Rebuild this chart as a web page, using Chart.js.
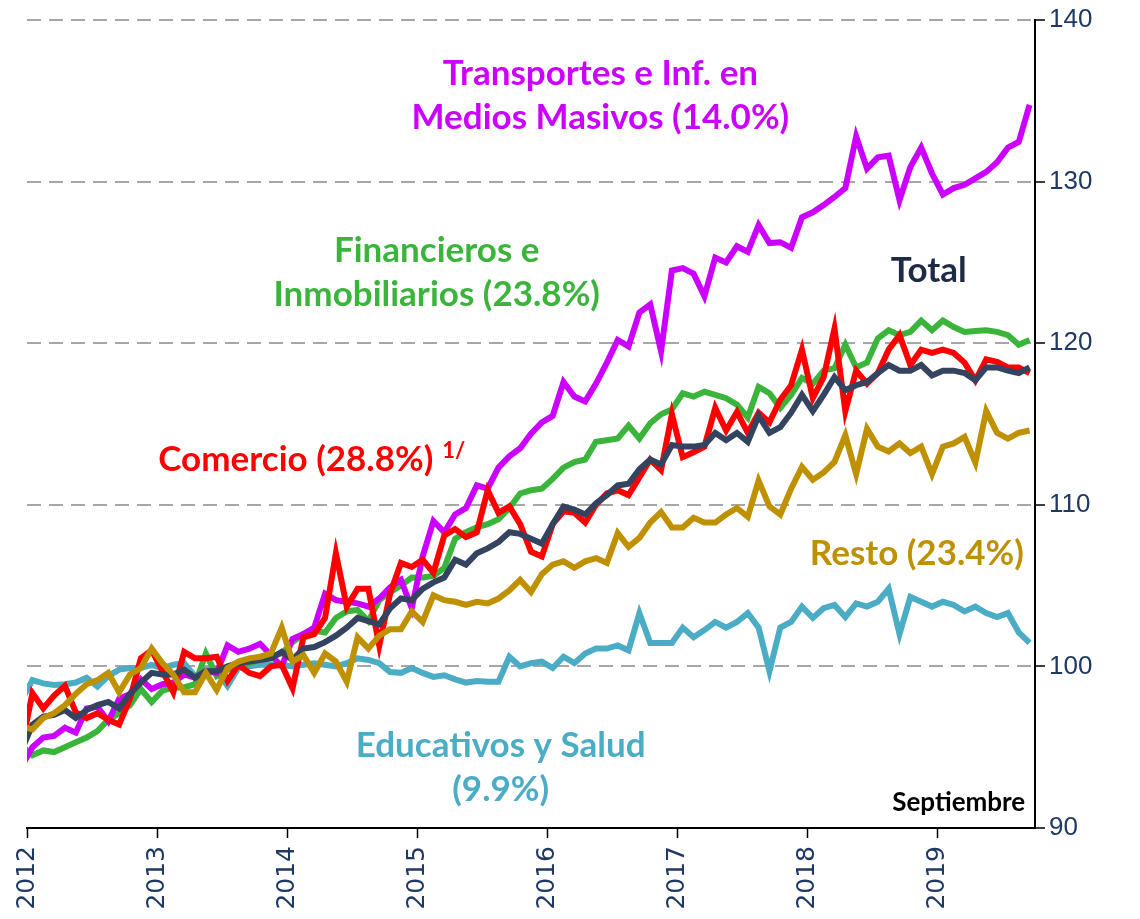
<!DOCTYPE html>
<html>
<head>
<meta charset="utf-8">
<script src="https://cdn.jsdelivr.net/npm/chart.js@4.4.0/dist/chart.umd.min.js"></script>
<style>
  html, body { margin: 0; padding: 0; background: #fff; }
  #wrap { width: 1140px; height: 919px; }
</style>
</head>
<body>
<div id="wrap"><canvas id="chart"></canvas></div>
<script>
const years = ['2012', '2013', '2014', '2015', '2016', '2017', '2018', '2019'];

// monthly index values, Dec 2011 (cut off at the left edge) to Sep 2019
const total = [94.8,
  96.4, 96.9, 97.0, 97.3, 96.8, 97.3, 97.6, 97.8, 97.4, 98.3, 99.0, 99.6,
  99.5, 99.5, 99.8, 99.3, 99.7, 99.7, 100.0, 100.2, 100.3, 100.4, 100.5, 100.9,
  100.4, 101.1, 101.2, 101.5, 101.9, 102.4, 103.0, 102.8, 102.6, 103.6, 104.2, 104.1,
  104.8, 105.2, 105.5, 106.6, 106.3, 107.0, 107.3, 107.7, 108.3, 108.2, 107.9, 107.6,
  108.8, 109.9, 109.7, 109.4, 110.1, 110.6, 111.2, 111.3, 112.2, 112.8, 112.5, 113.7,
  113.6, 113.6, 113.7, 114.45, 114.0, 114.45, 113.9, 115.5, 114.45, 114.8, 115.7, 116.8,
  115.8, 116.8, 117.9, 117.1, 117.4, 117.6, 118.15, 118.65, 118.3, 118.3, 118.65, 118.0,
  118.3, 118.3, 118.15, 117.7, 118.5, 118.5, 118.3, 118.15, 118.5];

const transportes = [93.8,
  95.0, 95.6, 95.7, 96.2, 95.9, 97.4, 97.5, 96.6, 98.0, 98.3, 99.2, 98.6,
  98.9, 99.0, 99.5, 99.3, 99.7, 99.6, 101.3, 100.9, 101.1, 101.4, 100.7, 100.0,
  101.7, 102.0, 102.4, 104.5, 104.1, 104.0, 103.9, 103.7, 104.2, 104.9, 105.35, 103.6,
  106.8, 109.0, 108.3, 109.4, 109.8, 111.2, 111.0, 112.3, 113.0, 113.5, 114.4, 115.1,
  115.5, 117.6, 116.7, 116.4, 117.5, 118.8, 120.2, 119.8, 121.9, 122.4, 119.5, 124.5,
  124.65, 124.3, 122.9, 125.3, 125.0, 126.0, 125.65, 127.3, 126.2, 126.25, 125.9, 127.8,
  128.1, 128.55, 129.05, 129.6, 132.8, 130.8, 131.5, 131.6, 128.85, 130.9, 132.1, 130.5,
  129.2, 129.6, 129.8, 130.2, 130.6, 131.2, 132.1, 132.45, 134.75];

const financieros = [95.1,
  94.5, 94.8, 94.7, 95.0, 95.3, 95.6, 96.0, 96.7, 97.1, 97.6, 98.6, 97.8,
  98.5, 98.7, 98.7, 98.9, 100.8, 99.4, 99.8, 100.0, 100.2, 100.4, 100.6, 100.8,
  101.5, 102.0, 102.2, 102.1, 103.0, 103.4, 103.5, 102.8, 104.1, 104.6, 105.0, 105.5,
  105.5, 105.6, 106.1, 107.9, 108.3, 108.6, 108.8, 109.1, 109.8, 110.7, 110.9, 111.0,
  111.6, 112.3, 112.65, 112.8, 113.9, 114.0, 114.1, 114.9, 114.1, 115.05, 115.6, 115.9,
  116.9, 116.7, 117.0, 116.8, 116.6, 116.2, 115.4, 117.3, 116.9, 116.0, 116.8, 117.85,
  117.5, 118.3, 118.45, 119.9, 118.5, 118.8, 120.3, 120.8, 120.5, 120.7, 121.4, 120.8,
  121.4, 121.0, 120.7, 120.75, 120.8, 120.7, 120.5, 119.9, 120.2];

const comercio = [95.0,
  98.35, 97.4, 98.2, 98.8, 97.15, 96.8, 97.1, 96.7, 96.4, 98.0, 100.5, 101.0,
  99.7, 98.4, 100.9, 100.5, 100.5, 100.6, 99.1, 100.1, 99.6, 99.4, 100.0, 100.1,
  98.65, 101.8, 102.0, 103.0, 107.0, 103.7, 104.8, 104.8, 101.3, 104.5, 106.4, 106.15,
  106.6, 105.8, 108.1, 108.5, 108.0, 108.3, 110.9, 109.5, 109.9, 108.8, 107.1, 106.8,
  108.8, 109.6, 109.5, 108.9, 110.0, 110.7, 110.9, 110.6, 111.7, 112.8, 112.15, 115.6,
  112.95, 113.25, 113.6, 116.0, 114.6, 115.75, 114.45, 115.7, 115.1, 116.5, 117.4, 119.6,
  116.6, 117.9, 120.9, 115.8, 118.3, 117.5, 118.15, 119.6, 120.5, 118.65, 119.6, 119.4,
  119.6, 119.4, 118.8, 117.7, 119.0, 118.85, 118.5, 118.5, 118.15];

const resto = [96.3,
  96.1, 96.8, 97.1, 97.6, 98.3, 98.9, 99.15, 99.6, 98.4, 99.5, 99.9, 101.1,
  100.2, 99.5, 98.4, 98.4, 99.6, 98.55, 99.9, 100.3, 100.5, 100.6, 100.8, 102.4,
  100.3, 100.7, 99.6, 100.8, 100.3, 99.05, 101.8, 101.1, 101.9, 102.3, 102.3, 103.4,
  102.75, 104.4, 104.1, 104.0, 103.8, 104.0, 103.9, 104.2, 104.7, 105.35, 104.6, 105.7,
  106.3, 106.5, 106.1, 106.5, 106.7, 106.4, 108.25, 107.4, 107.95, 108.9, 109.55, 108.6,
  108.6, 109.2, 108.9, 108.9, 109.4, 109.8, 109.25, 111.5, 109.9, 109.4, 111.0, 112.35,
  111.55, 112.0, 112.65, 114.3, 111.9, 114.7, 113.6, 113.3, 113.8, 113.2, 113.6, 111.9,
  113.6, 113.8, 114.2, 112.6, 115.8, 114.45, 114.1, 114.45, 114.6];

const educativos = [97.9,
  99.15, 98.95, 98.85, 98.9, 99.0, 99.3, 98.75, 99.4, 99.8, 99.9, 99.9, 100.1,
  99.9, 100.1, 100.2, 99.4, 99.8, 99.7, 98.8, 99.9, 100.0, 100.1, 100.1, 100.1,
  100.0, 100.1, 100.2, 100.1, 100.0, 100.2, 100.5, 100.4, 100.2, 99.65, 99.6, 99.9,
  99.6, 99.35, 99.45, 99.2, 99.0, 99.1, 99.05, 99.05, 100.6, 100.0, 100.2, 100.3,
  99.9, 100.6, 100.2, 100.8, 101.1, 101.1, 101.3, 101.0, 103.3, 101.45, 101.45, 101.45,
  102.4, 101.8, 102.25, 102.75, 102.4, 102.75, 103.3, 102.4, 99.7, 102.4, 102.75, 103.7,
  103.0, 103.6, 103.8, 103.05, 103.9, 103.7, 104.0, 104.8, 102.0, 104.3, 104.0, 103.7,
  104.0, 103.8, 103.4, 103.7, 103.3, 103.05, 103.3, 102.1, 101.45];

const PURPLE = '#CC00FF';
const GREEN = '#3AB43A';
const RED = '#FF0000';
const NAVY = '#344360';
const GOLD = '#BF9000';
const TEAL = '#4BACC6';
const AXIS_TEXT = '#1F3864';

// month index: 0 = Jan 2012, first value of each series is Dec 2011
const toPoints = arr => arr.map((v, k) => ({ x: k - 1, y: v }));

// text labels, placed in data units (month index, index value)
const notes = [
  { text: ['Transportes e Inf. en', 'Medios Masivos (14.0%)'], x: 52.4, y: 136.7, color: PURPLE },
  { text: ['Financieros e', 'Inmobiliarios (23.8%)'], x: 37.3, y: 125.7, color: GREEN },
  { text: ['Total'], x: 82.7, y: 124.5, color: '#1F2A44' },
  { text: ['Comercio (28.8%)'], x: 24.3, y: 112.8, color: RED, sup: '1/' },
  { text: ['Resto (23.4%)'], x: 81.6, y: 107.0, color: GOLD },
  { text: ['Educativos y Salud', '(9.9%)'], x: 43.2, y: 95.1, color: TEAL },
  { text: ['Septiembre'], x: 91.6, y: 91.6, color: '#000', size: 26, align: 'right' }
];

const notesPlugin = {
  id: 'notes',
  afterDatasetsDraw(chart) {
    const { ctx, scales } = chart;
    ctx.save();
    notes.forEach(n => {
      const size = n.size || 35;
      const px = scales.x.getPixelForValue(n.x);
      const py = scales.y.getPixelForValue(n.y);
      ctx.font = 'bold ' + size + 'px Lato, sans-serif';
      ctx.fillStyle = n.color;
      ctx.textAlign = n.align || 'center';
      ctx.textBaseline = 'middle';
      n.text.forEach((line, k) => ctx.fillText(line, px, py + k * 44));
      if (n.sup) {
        const w = ctx.measureText(n.text[0]).width;
        ctx.font = 'bold 22px Lato, sans-serif';
        ctx.textAlign = 'left';
        ctx.fillText(n.sup, px + w / 2 + 9, py - 9);
      }
    });
    ctx.restore();
  }
};

const line = (label, data, color) => ({
  label: label,
  data: toPoints(data),
  borderColor: color,
  backgroundColor: color,
  borderWidth: 6,
  pointRadius: 0,
  fill: false,
  tension: 0,
  clip: 0
});

new Chart(document.getElementById('chart').getContext('2d'), {
  type: 'line',
  data: {
    datasets: [
      line('Resto', resto, GOLD),
      line('Total', total, NAVY),
      line('Comercio', comercio, RED),
      line('Transportes e Inf. en Medios Masivos', transportes, PURPLE),
      line('Financieros e Inmobiliarios', financieros, GREEN),
      line('Educativos y Salud', educativos, TEAL)
    ]
  },
  options: {
    responsive: true,
    maintainAspectRatio: false,
    animation: false,
    layout: { padding: { left: 27, top: 20, right: 0, bottom: 0 } },
    plugins: {
      legend: { display: false },
      tooltip: { enabled: false }
    },
    scales: {
      x: {
        type: 'linear',
        min: -0.5,
        max: 92.5,
        afterBuildTicks: scale => {
          scale.ticks = years.map((_, k) => ({ value: k * 12 - 0.5 }));
        },
        afterFit: scale => { scale.height = 91; },
        ticks: {
          autoSkip: false,
          minRotation: 90,
          maxRotation: 90,
          padding: 8,
          color: AXIS_TEXT,
          font: { family: 'DejaVu Sans', size: 25 },
          callback: (value, index) => years[index]
        },
        grid: {
          drawOnChartArea: false,
          tickLength: 10,
          tickColor: '#000',
          tickWidth: 1.5
        },
        border: { color: '#000', width: 2 }
      },
      y: {
        position: 'right',
        min: 90,
        max: 140,
        afterFit: scale => { scale.width = 105; },
        ticks: {
          stepSize: 10,
          padding: 4,
          color: AXIS_TEXT,
          font: { family: "'Liberation Sans Narrow', 'Liberation Sans', sans-serif", size: 26 }
        },
        grid: {
          color: c => (c.tick && c.tick.value === 90 ? 'rgba(0,0,0,0)' : '#A6A6A6'),
          lineWidth: 2,
          tickLength: 10,
          tickColor: '#000',
          tickWidth: 1.5
        },
        border: { color: '#000', width: 2, dash: [14, 8] }
      }
    }
  },
  plugins: [notesPlugin]
});
</script>
</body>
</html>
